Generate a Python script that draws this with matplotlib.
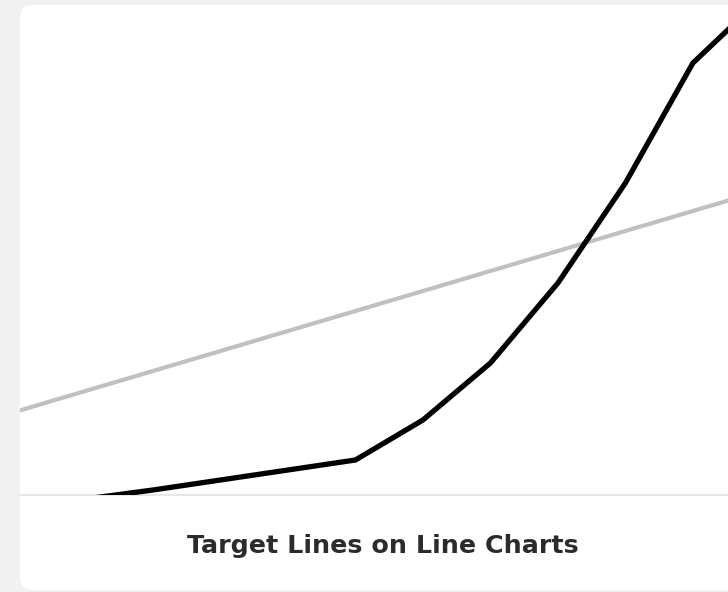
import matplotlib
matplotlib.use("Agg")
import matplotlib.pyplot as plt
from matplotlib.patches import FancyBboxPatch

# data
periods = list(range(12))
actual = [-3.0, -1.0, 1.25, 3.75, 6.25, 8.75, 18.75, 33.0, 53.0, 78.0, 108.0, 124.0]
target = [21, 26, 31, 36, 41, 46, 51, 56, 61, 66, 71, 76]
title = "Target Lines on Line Charts"

W, H = 728, 592
fig = plt.figure(figsize=(W / 100, H / 100), dpi=100)
fig.patch.set_facecolor("#f1f1f1")

# white card with rounded corners, running off the right edge
card = FancyBboxPatch(
    (20 / W, 2 / H), 760 / W, 585 / H,
    boxstyle="round,pad=0,rounding_size=0.018",
    transform=fig.transFigure, facecolor="white", edgecolor="none",
    mutation_aspect=W / H, zorder=-5,
)
fig.patches.append(card)

# plot area: x 20..728 px, y 5..495 px (from top)
ax = fig.add_axes([20 / W, (H - 495) / H, 708 / W, 490 / H])
ax.set_facecolor("none")
ax.plot(periods, target, color="#c0c0c0", lw=3.0, solid_capstyle="butt", zorder=2)
ax.plot(periods, actual, color="black", lw=3.8, solid_joinstyle="miter", zorder=3)
ax.set_xlim(0.03, 10.52)
ax.set_ylim(0, 122.5)
ax.axhline(0, color="#e4e4e4", lw=1.3, zorder=1, clip_on=False)
for s in ax.spines.values():
    s.set_visible(False)
ax.set_xticks([])
ax.set_yticks([])

fig.text(383 / W, 1 - 546 / H, title, ha="center", va="center",
         fontsize=18.3, fontweight="bold", color="#2b2b2b", family="DejaVu Sans")

fig.savefig("out.png", dpi=100, facecolor=fig.get_facecolor())
